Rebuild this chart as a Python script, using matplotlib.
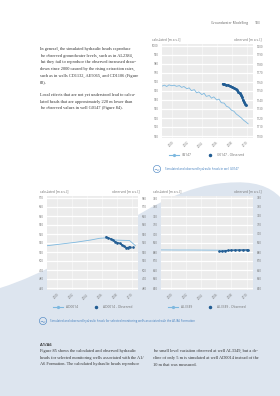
import matplotlib
matplotlib.use('Agg')
import matplotlib.pyplot as plt
from matplotlib.patches import PathPatch, Circle
from matplotlib.path import Path
from matplotlib.lines import Line2D

W, H = 280, 396

# 井 G0147（上图）
g0147_sim_year = [1998.7, 1999.0, 1999.3, 1999.6, 2000.0, 2000.3, 2000.6, 2001.0, 2001.3, 2001.6,
                  2002.0, 2002.3, 2002.6, 2003.0, 2003.3, 2003.6, 2004.0, 2004.3, 2004.6, 2005.0,
                  2005.3, 2005.6, 2006.0, 2006.3, 2006.6, 2007.0, 2007.3, 2007.6, 2008.0, 2008.3,
                  2008.6, 2009.0, 2009.3, 2009.6, 2010.0, 2010.2]
g0147_sim = [955.5, 956.5, 955.0, 956.8, 955.8, 956.5, 955.2, 956.0, 954.0, 955.0,
             952.5, 953.5, 950.5, 951.5, 948.0, 949.0, 946.0, 947.5, 944.0, 945.0,
             942.0, 943.5, 940.0, 941.0, 937.0, 936.5, 933.0, 932.0, 928.5, 927.5,
             924.5, 922.0, 920.0, 917.5, 915.0, 913.5]
g0147_obs_year = [2006.8, 2007.0, 2007.2, 2007.5, 2007.75, 2008.0, 2008.3, 2008.55, 2008.75,
                  2008.9, 2009.05, 2009.2, 2009.35, 2009.5, 2009.62, 2009.74, 2009.87]
g0147_obs = [1157.8, 1157.5, 1157.0, 1156.4, 1155.6, 1154.8, 1153.6, 1152.0, 1150.6,
             1149.0, 1147.4, 1145.6, 1143.2, 1140.5, 1138.3, 1136.0, 1134.0]

# 井 AD0014（左下）
ad0014_sim_year = [1998.7, 2000.5, 2002.5, 2004.5, 2005.7, 2006.8, 2007.3, 2007.7, 2008.7, 2009.7, 2010.1, 2010.5]
ad0014_sim = [517.0, 518.8, 520.8, 523.3, 525.2, 525.9, 524.8, 523.3, 523.0, 522.8, 520.0, 517.0]
ad0014_obs_year = [2006.6, 2006.9, 2007.2, 2007.5, 2007.8, 2008.1, 2008.4, 2008.7, 2009.0, 2009.3,
                   2009.5, 2009.73, 2009.9, 2010.2]
ad0014_obs = [537.0, 535.5, 534.5, 533.3, 531.5, 530.5, 529.7, 528.0, 526.5, 524.8,
              525.0, 525.9, float('nan'), 525.2]

# 井 AL3349（右下）
al3349_sim_year = [1998.7, 2001.0, 2003.0, 2005.0, 2007.0, 2009.0, 2010.4]
al3349_sim = [682.3, 682.2, 682.2, 682.1, 682.0, 682.0, 682.0]
al3349_obs_year = [2006.4, 2006.8, 2007.2, 2007.6, 2008.0, 2008.5, 2009.0, 2009.5, 2010.0, 2010.2]
al3349_obs = [680.6, 680.9, 681.3, 681.7, 682.0, 682.1, 682.2, 682.2, 682.3, 682.2]

year_ticks = [2000, 2002, 2004, 2006, 2008, 2010]
xlim = (1998.67, 2010.85)

SIM_C = '#7db8df'
OBS_C = '#225d93'
BG_C = '#dde5ef'
CAP_C = '#3c7bbd'
TXT_C = '#333333'
LAB_C = '#707070'

SERIF = ['Liberation Serif', 'DejaVu Serif']
SANS = ['Open Sans', 'DejaVu Sans']

fig = plt.figure(figsize=(W / 100, H / 100), dpi=100)
fig.patch.set_facecolor('white')

# 整页背景（像素坐标）
bg = fig.add_axes([0, 0, 1, 1])
bg.set_xlim(0, W)
bg.set_ylim(H, 0)
bg.axis('off')

verts = [(0, 288), (90, 260), (150, 188), (225, 183),
         (255, 180), (270, 187), (280, 197),
         (280, H), (0, H), (0, 288)]
codes = [Path.MOVETO, Path.CURVE4, Path.CURVE4, Path.CURVE4,
         Path.CURVE4, Path.CURVE4, Path.CURVE4,
         Path.LINETO, Path.LINETO, Path.CLOSEPOLY]
bg.add_patch(PathPatch(Path(verts, codes), facecolor=BG_C, edgecolor='none'))


def rect(l, t, r, b):
    return [l / W, 1 - b / H, (r - l) / W, (b - t) / H]


def make_chart(box, ylims, yticks_l, ylims2, yticks_r):
    ax = fig.add_axes(rect(*box))
    ax.set_facecolor('#ececec')
    ax.set_axisbelow(True)
    ax.set_xlim(*xlim)
    ax.set_ylim(*ylims)
    ax.set_yticks(yticks_l)
    ax.set_xticks(year_ticks)
    ax.set_xticklabels([str(y) for y in year_ticks], rotation=45, ha='right',
                       rotation_mode='anchor')
    ax.grid(axis='y', color='white', lw=0.9)
    ax.grid(axis='x', color='#f8f8f8', lw=0.5)
    ax2 = ax.twinx()
    ax2.set_ylim(*ylims2)
    ax2.set_yticks(yticks_r)
    for a in (ax, ax2):
        for s in a.spines.values():
            s.set_visible(False)
        a.tick_params(length=0, labelsize=2.1, labelcolor=LAB_C, pad=2.5)
        for t in a.get_xticklabels() + a.get_yticklabels():
            t.set_family(SANS)
    ax.tick_params(axis='x', pad=2)
    return ax, ax2


def chart_labels(l, r, y):
    bg.text(l, y, 'calculated [m a.s.l.]', fontsize=2.3, color=LAB_C, family=SANS,
            ha='left', va='center')
    bg.text(r, y, 'observed [m a.s.l.]', fontsize=2.3, color=LAB_C, family=SANS,
            ha='right', va='center')


def legend(ax, name, cx, cy):
    h1 = Line2D([], [], color=SIM_C, lw=0.8, marker='o', markersize=1.3)
    h2 = Line2D([], [], color=OBS_C, lw=0, marker='o', markersize=1.5)
    leg = ax.legend([h1, h2], [name, name + ' - Observed'], ncol=2, frameon=False,
                    handlelength=3.2, columnspacing=4, handletextpad=0.8,
                    loc='center', bbox_to_anchor=(cx / W, 1 - cy / H),
                    bbox_transform=fig.transFigure, labelcolor=LAB_C,
                    prop={'family': SANS, 'size': 2.3})
    return leg


def icon(x, y):
    bg.add_patch(Circle((x, y), 3.6, facecolor='none', edgecolor=CAP_C, lw=0.4))
    bg.plot([x - 2, x - 0.7, x + 0.7, x + 2], [y + 0.8, y + 0.2, y + 1.4, y + 0.8],
            color=CAP_C, lw=0.35)


def px2val(top_px, bot_px, v_top, v_bot, t, b):
    k = (v_top - v_bot) / (bot_px - top_px)
    return (v_bot - (b - bot_px) * k, v_top + (top_px - t) * k)


# 上图
box_top = (162, 44, 253, 138)
ax, ax2 = make_chart(box_top, px2val(46, 136, 1000, 900, 44, 138), list(range(900, 1001, 10)),
                     px2val(46, 136, 1200, 1100, 44, 138), list(range(1100, 1201, 10)))
ax.plot(g0147_sim_year, g0147_sim, color=SIM_C, lw=0.6)
ax2.plot(g0147_obs_year, g0147_obs, color=OBS_C, lw=1.2, marker='o', markersize=1.1)
chart_labels(152, 262, 39)
legend(ax, 'G0147', 207, 155)

# 左下
box_bl = (47, 196, 138, 290)
ax, ax2 = make_chart(box_bl, px2val(198, 288, 570, 470, 196, 290), list(range(470, 571, 10)),
                     px2val(198, 288, 580, 480, 196, 290), list(range(480, 581, 10)))
ax.plot(ad0014_sim_year, ad0014_sim, color=SIM_C, lw=0.6)
ax2.plot(ad0014_obs_year, ad0014_obs, color=OBS_C, lw=0.9, marker='o', markersize=0.9)
chart_labels(40, 139, 191)
legend(ax, 'AD0014', 93, 307)

# 右下
box_br = (161, 196, 253, 290)
ax, ax2 = make_chart(box_br, px2val(198, 288, 740, 640, 196, 290), list(range(640, 741, 10)),
                     px2val(198, 288, 740, 640, 196, 290), list(range(640, 741, 10)))
ax.plot(al3349_sim_year, al3349_sim, color=SIM_C, lw=0.6)
ax2.plot(al3349_obs_year, al3349_obs, color=OBS_C, lw=0.9, marker='o', markersize=0.9)
chart_labels(153, 261, 191)
legend(ax, 'AL3349', 207, 307)

# 页眉
bg.text(248, 23, 'Groundwater Modelling', fontsize=2.4, color='#666666', family=SANS,
        ha='right', va='center')
bg.text(255, 23, '183', fontsize=2.4, color='#666666', family=SANS, ha='left', va='center')

# 正文
FS = 3.2
top_lines = [
    'In general, the simulated hydraulic heads reproduce',
    'the observed groundwater levels, such as in AL2384,',
    'but they fail to reproduce the observed increased draw-',
    'down since 2000 caused by the rising extraction rates,',
    'such as in wells CD1132, AE5065, and CD1106 (Figure',
    '83).',
]
for i, s in enumerate(top_lines):
    bg.text(40, 49 + i * 6.7, s, fontsize=FS, color=TXT_C, family=SERIF, va='center')
local_lines = [
    'Local effects that are not yet understood lead to calcu-',
    'lated heads that are approximately 220 m lower than',
    'the observed values in well G0147 (Figure 84).',
]
for i, s in enumerate(local_lines):
    bg.text(40, 95 + i * 6.7, s, fontsize=FS, color=TXT_C, family=SERIF, va='center')

# 图注
icon(157, 169)
bg.text(165, 169, 'Simulated and observed hydraulic heads in well G0147', fontsize=2.1,
        color=CAP_C, family=SANS, va='center')
icon(43, 321)
bg.text(50, 321, 'Simulated and observed hydraulic heads for selected monitoring wells '
        'associated with the A1/A6 Formation', fontsize=2.1, color=CAP_C, family=SANS,
        va='center')

bg.text(40, 345, 'A1/A6', fontsize=2.9, color=TXT_C, family=SANS, weight='bold', va='center')
left_col = [
    'Figure 85 shows the calculated and observed hydraulic',
    'heads for selected monitoring wells associated with the A1/',
    'A6 Formation. The calculated hydraulic heads reproduce',
]
right_col = [
    'the small level variation observed at well AL3349, but a de-',
    'cline of only 5 m is simulated at well AD0014 instead of the',
    '10 m that was measured.',
]
for i, s in enumerate(left_col):
    bg.text(40, 351.3 + i * 6.6, s, fontsize=FS, color=TXT_C, family=SERIF, va='center')
for i, s in enumerate(right_col):
    bg.text(153, 351.3 + i * 6.6, s, fontsize=FS, color=TXT_C, family=SERIF, va='center')

fig.savefig('out.png', dpi=100)
